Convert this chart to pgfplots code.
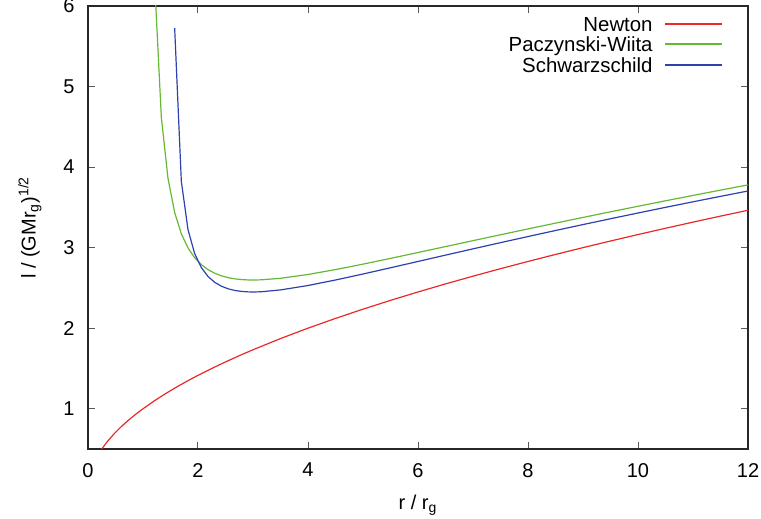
\documentclass[border=0pt]{standalone}
\usepackage{fontspec}
\setmainfont{Liberation Sans}
\usepackage{pgfplots}
\pgfplotsset{compat=1.18}

\definecolor{cnewton}{RGB}{235,40,40}
\definecolor{cpw}{RGB}{100,185,50}
\definecolor{cschw}{RGB}{45,65,175}
\definecolor{axisgray}{RGB}{40,40,40}

\begin{document}
\begin{tikzpicture}
\begin{axis}[
  name=ax,
  scale only axis,
  width=330pt, height=221.5pt,
  xmin=0, xmax=12, ymin=0.5, ymax=6,
  xtick={0,2,...,12}, ytick={1,2,...,6},
  tick align=inside,
  major tick length=3.5pt,
  minor tick num=0,
  tick style={gray!70!black, line width=0.5pt},
  axis line style={axisgray, line width=0.8pt},
  font=\fontsize{10}{12}\selectfont,
  /pgf/number format/assume math mode=true,
  xticklabel style={yshift=-3.5pt},
  yticklabel style={xshift=-3.2pt},
  xlabel={r / r\textsubscript{g}},
  ylabel={l / (GMr\textsubscript{g})\textsuperscript{1/2}},
  xlabel style={at={(axis description cs:0.5,0)}, anchor=center, yshift=-28pt},
  ylabel style={at={([xshift=-29pt]axis description cs:0,0.5)}, anchor=center},
]

% Newton
\addplot[draw=cnewton, line width=0.6pt] coordinates {
  (0.24242,0.49237) (0.36364,0.60302) (0.48485,0.69631) (0.60606,0.77850)
  (0.72727,0.85280) (0.84848,0.92113) (0.96970,0.98473) (1.2,1.09545)
  (1.4,1.18322) (1.6,1.26491) (1.8,1.34164) (2,1.41421) (2.25,1.5)
  (2.5,1.58114) (2.75,1.65831) (3,1.73205) (3.5,1.87083) (4,2)
  (4.5,2.12132) (5,2.23607) (5.5,2.34521) (6,2.44949) (6.5,2.54951)
  (7,2.64575) (7.5,2.73861) (8,2.82843) (8.5,2.91548) (9,3)
  (9.5,3.08221) (10,3.16228) (10.5,3.24037) (11,3.31662) (11.5,3.39116)
  (12,3.46410)
};

% Paczynski-Wiita
\addplot[draw=cpw, line width=0.6pt] coordinates {
  (1.21212,6.2913) (1.33333,4.6188) (1.45455,3.8594) (1.57576,3.4355)
  (1.69697,3.1717) (1.81818,2.9965) (1.93939,2.8751) (2.06061,2.7889)
  (2.18182,2.7269) (2.30303,2.6822) (2.42424,2.6502) (2.54545,2.6278)
  (2.66667,2.6128) (2.78788,2.6036) (2.90909,2.5990) (3.03030,2.5982)
  (3.15152,2.6004) (3.5,2.6192) (4,2.6667) (4.5,2.7274) (5,2.7951)
  (5.5,2.8664) (6,2.9394) (6.5,3.0131) (7,3.0867) (7.5,3.1599)
  (8,3.2325) (8.5,3.3042) (9,3.375) (9.5,3.4448) (10,3.5136)
  (10.5,3.5815) (11,3.6483) (11.5,3.7141) (12,3.7790)
};

% Schwarzschild
\addplot[draw=cschw, line width=0.6pt] coordinates {
  (1.57576,5.7250) (1.69697,3.8237) (1.81818,3.2233) (1.93939,2.9258)
  (2.06061,2.7521) (2.18182,2.6423) (2.30303,2.5700) (2.42424,2.5216)
  (2.54545,2.4895) (2.66667,2.4689) (2.78788,2.4566) (2.90909,2.4507)
  (3.03030,2.4496) (3.15152,2.4523) (3.5,2.4749) (4,2.5298) (4.5,2.5981)
  (5,2.6726) (5.5,2.75) (6,2.8284) (6.5,2.9069) (7,2.9848) (7.5,3.0619)
  (8,3.1378) (8.5,3.2127) (9,3.2863) (9.5,3.3588) (10,3.4300)
  (10.5,3.5) (11,3.5689) (11.5,3.6366) (12,3.7033)
};

\end{axis}

% legend drawn by hand (gnuplot style: text right-aligned, sample after it)
\draw[cschw, line width=0.6pt] ([shift={(-41.5pt,-29.5pt)}]ax.north east) -- ++(28.5pt,0pt);
\draw[cpw, line width=0.6pt] ([shift={(-41.5pt,-19pt)}]ax.north east) -- ++(28.5pt,0pt);
\draw[cnewton, line width=0.6pt] ([shift={(-41.5pt,-9pt)}]ax.north east) -- ++(28.5pt,0pt);
\begin{scope}[every node/.style={anchor=base east, inner sep=0pt, font=\fontsize{10.2}{12}\selectfont}]
  \node at ([shift={(-47.5pt,-12.6pt)}]ax.north east) {Newton};
  \node at ([shift={(-47.5pt,-22.6pt)}]ax.north east) {Paczynski-Wiita};
  \node at ([shift={(-47.5pt,-33.1pt)}]ax.north east) {Schwarzschild};
\end{scope}

\pgfresetboundingbox
\path[use as bounding box] ([shift={(-44pt,-35pt)}]ax.south west) rectangle ([shift={(6.5pt,3pt)}]ax.north east);
\end{tikzpicture}
\end{document}
